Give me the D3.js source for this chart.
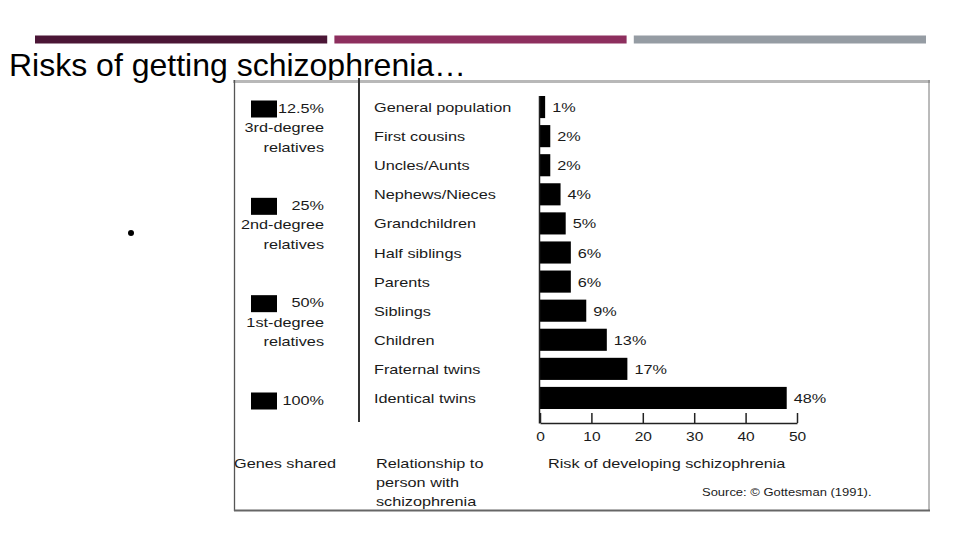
<!DOCTYPE html>
<html>
<head>
<meta charset="utf-8">
<script src="https://cdn.jsdelivr.net/npm/d3@7"></script>
<style>
  html, body { margin: 0; padding: 0; background: #fff; }
  svg { display: block; }
  text { font-family: "Liberation Sans", Arial, Helvetica, sans-serif; fill: #1a1a1a; }
</style>
</head>
<body>
<svg id="chart" width="960" height="540"></svg>
<script>
// ---- data ----
const categories = ["General population", "First cousins", "Uncles/Aunts", "Nephews/Nieces",
  "Grandchildren", "Half siblings", "Parents", "Siblings", "Children", "Fraternal twins", "Identical twins"];
const risks = [1, 2, 2, 4, 5, 6, 6, 9, 13, 17, 48];
const xTicks = [0, 10, 20, 30, 40, 50];
const geneShares = ["12.5%", "25%", "50%", "100%"];
const degreeLabels = ["3rd-degree", "2nd-degree", "1st-degree", ""];
const headerColors = ["#4b1636", "#8d2f5e", "#959ca3"];

const svg = d3.select("#chart");
const SX = 1.25;

function stext(g, x, y, str, anchor, size, sx) {
  return g.append("text")
    .attr("transform", `translate(${x},${y}) scale(${sx || SX},1)`)
    .attr("text-anchor", anchor || "start")
    .style("font-size", (size || 13) + "px")
    .text(str);
}

// header stripes
const hx = d3.scaleBand().domain(d3.range(headerColors.length)).range([35, 926]).paddingInner(0.024);
svg.selectAll("rect.hdr").data(headerColors).join("rect")
  .attr("class", "hdr")
  .attr("x", (d, i) => hx(i)).attr("y", 35.5)
  .attr("width", hx.bandwidth()).attr("height", 8)
  .attr("fill", d => d);

// title
svg.append("text").attr("x", 9).attr("y", 76)
  .style("font-size", "32px").style("fill", "#000")
  .text("Risks of getting schizophrenia…");

// bullet
svg.append("circle").attr("cx", 131).attr("cy", 233).attr("r", 3).attr("fill", "#000");

// image frame
const fr = svg.append("g");
fr.append("rect").attr("x", 234).attr("y", 81).attr("width", 695).attr("height", 430)
  .attr("fill", "#fff").attr("stroke", "none");
fr.append("line").attr("x1", 233).attr("x2", 930).attr("y1", 81.5).attr("y2", 81.5)
  .attr("stroke", "#b8b8b8").attr("stroke-width", 3);
fr.append("line").attr("x1", 234.5).attr("x2", 234.5).attr("y1", 80).attr("y2", 511)
  .attr("stroke", "#555").attr("stroke-width", 1.3);
fr.append("line").attr("x1", 929).attr("x2", 929).attr("y1", 80).attr("y2", 511)
  .attr("stroke", "#777").attr("stroke-width", 1);
fr.append("line").attr("x1", 234).attr("x2", 930).attr("y1", 510.5).attr("y2", 510.5)
  .attr("stroke", "#666").attr("stroke-width", 2);

// divider
fr.append("line").attr("x1", 359).attr("x2", 359).attr("y1", 78).attr("y2", 422)
  .attr("stroke", "#333").attr("stroke-width", 2);

// scales
const x = d3.scaleLinear().domain([0, 50]).range([540, 797]);
const y = d3.scaleBand().domain(categories).range([92.5, 412.5]).paddingInner(0.24).paddingOuter(0.12);

// bars
svg.selectAll("rect.bar").data(risks).join("rect")
  .attr("class", "bar")
  .attr("x", x(0)).attr("y", (d, i) => y(categories[i]))
  .attr("width", d => x(d) - x(0)).attr("height", y.bandwidth())
  .attr("fill", "#000");

// value labels
const vl = svg.append("g");
risks.forEach((d, i) => {
  stext(vl, x(d) + 7, y(categories[i]) + y.bandwidth() / 2 + 5, d + "%", "start", 13);
});

// category labels
const cl = svg.append("g");
categories.forEach(c => {
  stext(cl, 374, y(c) + y.bandwidth() / 2 + 5, c, "start", 13);
});

// y axis line
svg.append("line").attr("x1", x(0) - 0.5).attr("x2", x(0) - 0.5)
  .attr("y1", y(categories[0])).attr("y2", 423.5)
  .attr("stroke", "#222").attr("stroke-width", 1.5);

// x axis
const xAxis = d3.axisBottom(x).tickValues(xTicks).tickSizeInner(-10).tickSizeOuter(0).tickPadding(8);
const ga = svg.append("g").attr("transform", "translate(0,423)").call(xAxis);
ga.select(".domain").attr("stroke", "#222").attr("stroke-width", 1.5);
ga.selectAll(".tick line").attr("stroke", "#222").attr("stroke-width", 1.5);
ga.selectAll(".tick text")
  .attr("transform", "scale(1.15,1)")
  .style("font-size", "13.5px")
  .style("font-family", "\"Liberation Sans\", Arial, sans-serif")
  .attr("fill", "#1a1a1a");

// gene shares
const gy = d3.scalePoint().domain(geneShares).range([108, 400]);
const gg = svg.append("g");
gg.selectAll("rect.sq").data(geneShares).join("rect")
  .attr("class", "sq")
  .attr("x", 251).attr("y", d => gy(d) - 7.5)
  .attr("width", 26).attr("height", 17).attr("fill", "#000");
geneShares.forEach((g, i) => {
  stext(gg, 324, gy(g) + 4.5, g, "end", 13);
  if (degreeLabels[i]) {
    stext(gg, 324, gy(g) + 24, degreeLabels[i], "end", 13);
    stext(gg, 324, gy(g) + 43.5, "relatives", "end", 13);
  }
});

// bottom captions
const bc = svg.append("g");
stext(bc, 234, 467.5, "Genes shared", "start", 13);
stext(bc, 376, 467.5, "Relationship to", "start", 13);
stext(bc, 376, 486.5, "person with", "start", 13);
stext(bc, 376, 505.5, "schizophrenia", "start", 13);
stext(bc, 548, 467.5, "Risk of developing schizophrenia", "start", 13);
stext(bc, 702, 496, "Source:  © Gottesman (1991).", "start", 11, 1.18);
</script>
</body>
</html>
